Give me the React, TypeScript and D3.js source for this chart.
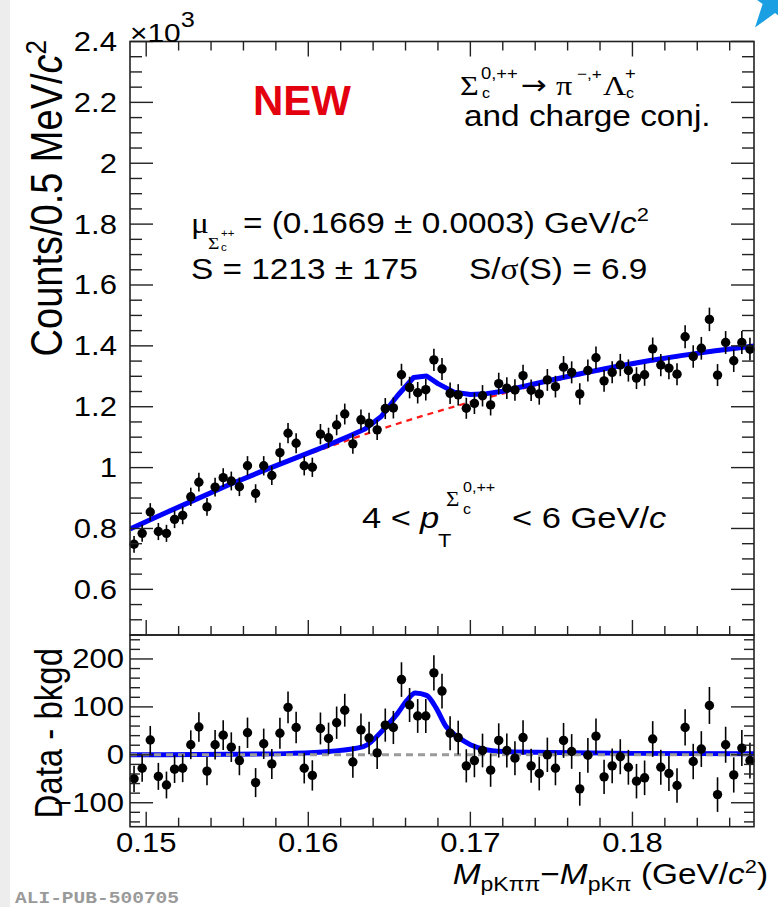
import React from "react";
import * as d3 from "d3";

// histogram bins (GeV/c^2), 0.5 MeV wide
const binCenters = [
  0.14925, 0.14975, 0.15025, 0.15075, 0.15125, 0.15175, 0.15225, 0.15275, 0.15325, 0.15375,
  0.15425, 0.15475, 0.15525, 0.15575, 0.15625, 0.15675, 0.15725, 0.15775, 0.15825, 0.15875,
  0.15925, 0.15975, 0.16025, 0.16075, 0.16125, 0.16175, 0.16225, 0.16275, 0.16325, 0.16375,
  0.16425, 0.16475, 0.16525, 0.16575, 0.16625, 0.16675, 0.16725, 0.16775, 0.16825, 0.16875,
  0.16925, 0.16975, 0.17025, 0.17075, 0.17125, 0.17175, 0.17225, 0.17275, 0.17325, 0.17375,
  0.17425, 0.17475, 0.17525, 0.17575, 0.17625, 0.17675, 0.17725, 0.17775, 0.17825, 0.17875,
  0.17925, 0.17975, 0.18025, 0.18075, 0.18125, 0.18175, 0.18225, 0.18275, 0.18325, 0.18375,
  0.18425, 0.18475, 0.18525, 0.18575, 0.18625, 0.18675, 0.18725,
];

// counts x10^3
const counts = [
  0.748, 0.784, 0.854, 0.79, 0.784, 0.83, 0.843, 0.904, 0.952, 0.871,
  0.936, 0.967, 0.956, 0.937, 1.006, 0.915, 1.006, 0.974, 1.049, 1.113,
  1.08, 1.006, 1.001, 1.11, 1.098, 1.14, 1.176, 1.078, 1.157, 1.146,
  1.124, 1.194, 1.196, 1.305, 1.263, 1.246, 1.256, 1.354, 1.324, 1.244,
  1.239, 1.195, 1.211, 1.236, 1.206, 1.276, 1.261, 1.255, 1.302, 1.254,
  1.242, 1.288, 1.266, 1.33, 1.313, 1.242, 1.319, 1.361, 1.285, 1.313,
  1.337, 1.319, 1.294, 1.305, 1.39, 1.337, 1.327, 1.307, 1.43, 1.365,
  1.392, 1.487, 1.304, 1.411, 1.351, 1.411, 1.389,
];

// data - background (counts)
const residuals = [
  -50, -28, 31, -45, -63, -30, -28, 21, 58, -34,
  21, 41, 16, -12, 46, -58, 23, -19, 45, 99,
  57, -28, -43, 55, 34, 67, 93, -15, 52, 35,
  4, 62, 57, 157, 104, 81, 81, 171, 133, 45,
  36, -23, -12, 9, -32, 30, 9, -7, 36, -23,
  -39, 0, -28, 30, 7, -71, -1, 39, -46, -23,
  -4, -26, -55, -48, 33, -26, -39, -64, 57, -14,
  12, 103, -83, 21, -42, 14, -12,
];

// total fit (blue)
const fitX = [0.149, 0.151, 0.153, 0.155, 0.157, 0.159, 0.161, 0.1625, 0.1635, 0.1645, 0.1655, 0.1665, 0.1673, 0.168, 0.169, 0.17, 0.171, 0.172, 0.173, 0.175, 0.177, 0.179, 0.181, 0.183, 0.185, 0.1875];
const fitTotal = [0.798, 0.847, 0.894, 0.941, 0.985, 1.027, 1.069, 1.103, 1.127, 1.168, 1.236, 1.296, 1.301, 1.276, 1.248, 1.24, 1.243, 1.251, 1.263, 1.288, 1.311, 1.332, 1.351, 1.368, 1.383, 1.4];

// background fit (red dashed)
const bkgX = [0.149, 0.152, 0.155, 0.158, 0.161, 0.164, 0.167, 0.17, 0.173, 0.176, 0.179, 0.182, 0.185, 0.1875];
const bkgVals = [0.798, 0.871, 0.94, 1.004, 1.063, 1.118, 1.169, 1.215, 1.257, 1.295, 1.328, 1.356, 1.38, 1.397];

// signal curve in lower panel
const sigX = [0.149, 0.155, 0.159, 0.1613, 0.1634, 0.1648, 0.1655, 0.1661, 0.1666, 0.1673, 0.1679, 0.1685, 0.1692, 0.17, 0.1708, 0.172, 0.175, 0.18, 0.1875];
const sigVals = [0, 1, 3, 7, 17, 59, 86, 114, 129, 124, 97, 59, 38, 21, 12, 7, 5, 3, 2];

const xTicks = [0.15, 0.16, 0.17, 0.18];
const xTickLabels = ["0.15", "0.16", "0.17", "0.18"];
const topTicks = [0.6, 0.8, 1, 1.2, 1.4, 1.6, 1.8, 2, 2.2, 2.4];
const topTickLabels = ["0.6", "0.8", "1", "1.2", "1.4", "1.6", "1.8", "2", "2.2", "2.4"];
const botTicks = [-100, 0, 100, 200];
const botTickLabels = ["\u2212100", "0", "100", "200"];

const SANS = "'Liberation Sans', Arial, Helvetica, sans-serif";
const SERIF = "'Liberation Serif', 'Times New Roman', serif";
const SX = 1.15;

const T = (p: any) => {
  const { x, y, size, anchor = "start", family = SANS, sx = SX, rot = 0, children, ...rest } = p;
  return (
    <text
      transform={`translate(${x},${y}) scale(${sx},1)${rot ? ` rotate(${rot})` : ""}`}
      fontSize={size}
      fontFamily={family}
      textAnchor={anchor}
      {...rest}
    >
      {children}
    </text>
  );
};

export default function App() {
  const L = 130, R = 754, TOP = 41.5, MID = 635, BOT = 826.7;
  const x = d3.scaleLinear().domain([0.149, 0.1875]).range([L, R]);
  const yT = d3.scaleLinear().domain([0.45, 2.4]).range([MID, TOP]);
  const yB = d3.scaleLinear().domain([-150, 250]).range([BOT, MID]);

  const xMinor = d3.range(0, 19).map((i) => 0.15 + i * 0.002);
  const topMinor = d3.range(0, 40).map((i) => 0.45 + i * 0.05).filter((v) => v <= 2.4001);
  const botMinor = d3.range(0, 20).map((i) => -140 + i * 20);

  const fitLine = d3.line<number>().x((d, i) => x(fitX[i])).y((d) => yT(d));
  const bkgLine = d3.line<number>().x((d, i) => x(bkgX[i])).y((d) => yT(d)).curve(d3.curveMonotoneX);
  const sigLine = d3.line<number>().x((d, i) => x(sigX[i])).y((d) => yB(d)).curve(d3.curveMonotoneX);

  const star = d3.range(10).map((k) => {
    const a = ((-90 + k * 36) * Math.PI) / 180;
    const r = k % 2 === 0 ? 34 : 13;
    return [775 + r * Math.cos(a), 0 + r * Math.sin(a)].join(",");
  }).join(" ");

  const ink = "#222";

  return (
    <svg width={778} height={907} style={{ position: "absolute", left: 0, top: 0, background: "#fff" }}>
      <rect x={0} y={0} width={10} height={907} fill="#ededed" />
      <polygon points={star} fill="#1a9fe3" />

      <defs>
        <clipPath id="clipTop"><rect x={L} y={TOP} width={R - L} height={MID - TOP} /></clipPath>
        <clipPath id="clipBot"><rect x={L} y={MID} width={R - L} height={BOT - MID} /></clipPath>
      </defs>

      {/* upper panel curves */}
      <g clipPath="url(#clipTop)">
        <path d={bkgLine(bkgVals) || ""} fill="none" stroke="#ff1a1a" strokeWidth={2.2} strokeDasharray="6,5" />
        <path d={fitLine(fitTotal) || ""} fill="none" stroke="#0000ff" strokeWidth={5} strokeLinejoin="round" />
      </g>
      {counts.map((c, i) => {
        const e = Math.sqrt(c * 1000) / 1000;
        return (
          <g key={"t" + i}>
            <line x1={x(binCenters[i])} x2={x(binCenters[i])} y1={yT(c - e)} y2={yT(c + e)} stroke="#000" strokeWidth={1.6} />
            <circle cx={x(binCenters[i])} cy={yT(c)} r={4.7} fill="#000" />
          </g>
        );
      })}

      {/* lower panel curves */}
      <g clipPath="url(#clipBot)">
        <path d={sigLine(sigVals) || ""} fill="none" stroke="#0000ff" strokeWidth={5} />
        <line x1={L} x2={R} y1={yB(0)} y2={yB(0)} stroke="#9a9a9a" strokeWidth={3} strokeDasharray="7,5" />
      </g>
      {residuals.map((r, i) => {
        const e = Math.sqrt(counts[i] * 1000);
        return (
          <g key={"b" + i}>
            <line x1={x(binCenters[i])} x2={x(binCenters[i])} y1={yB(r - e)} y2={yB(r + e)} stroke="#000" strokeWidth={1.6} />
            <circle cx={x(binCenters[i])} cy={yB(r)} r={4.7} fill="#000" />
          </g>
        );
      })}

      {/* frames */}
      <rect x={L} y={TOP} width={R - L} height={MID - TOP} fill="none" stroke={ink} strokeWidth={1.6} />
      <rect x={L} y={MID} width={R - L} height={BOT - MID} fill="none" stroke={ink} strokeWidth={1.6} />

      {/* ticks */}
      <g stroke={ink} strokeWidth={1.4}>
        {xMinor.map((v) => {
          const major = xTicks.some((t) => Math.abs(t - v) < 1e-6);
          const len = major ? 15 : 9;
          return (
            <g key={"xm" + v}>
              <line x1={x(v)} x2={x(v)} y1={TOP} y2={TOP + len} />
              <line x1={x(v)} x2={x(v)} y1={MID} y2={MID - len} />
              <line x1={x(v)} x2={x(v)} y1={BOT} y2={BOT - len} />
            </g>
          );
        })}
        {topMinor.map((v) => {
          const major = topTicks.some((t) => Math.abs(t - v) < 1e-6);
          const len = major ? 23 : 12;
          return (
            <g key={"ym" + v}>
              <line x1={L} x2={L + len} y1={yT(v)} y2={yT(v)} />
              <line x1={R} x2={R - len} y1={yT(v)} y2={yT(v)} />
            </g>
          );
        })}
        {botMinor.map((v) => {
          const major = botTicks.includes(v);
          const len = major ? 23 : 10;
          return (
            <g key={"bm" + v}>
              <line x1={L} x2={L + len} y1={yB(v)} y2={yB(v)} />
              <line x1={R} x2={R - len} y1={yB(v)} y2={yB(v)} />
            </g>
          );
        })}
      </g>

      {/* tick labels */}
      {topTicks.map((v, i) => (
        <T key={"tl" + i} x={117} y={yT(v) + 9.5} size={27} anchor="end">{topTickLabels[i]}</T>
      ))}
      {botTicks.map((v, i) => (
        <T key={"bl" + i} x={124} y={yB(v) + 9.5} size={27} anchor="end">{botTickLabels[i]}</T>
      ))}
      {xTicks.map((v, i) => (
        <T key={"xl" + i} x={x(v)} y={852} size={27} anchor="middle">{xTickLabels[i]}</T>
      ))}
      <T x={130} y={42} size={26}>
        ×10<tspan dy={-15} fontSize={22}>3</tspan>
      </T>

      {/* axis titles */}
      <T x={62} y={40} size={38} anchor="end" rot={-90}>
        Counts/0.5 MeV/<tspan fontStyle="italic">c</tspan><tspan dy={-14} fontSize={26}>2</tspan>
      </T>
      <T x={62} y={648} size={33} anchor="end" rot={-90}>Data - bkgd</T>
      <T x={768} y={884} size={29} anchor="end">
        <tspan fontStyle="italic">M</tspan>
        <tspan dy={7} fontSize={20}>pKππ</tspan>
        <tspan dy={-7}>−</tspan>
        <tspan fontStyle="italic">M</tspan>
        <tspan dy={7} fontSize={20}>pKπ</tspan>
        <tspan dy={-7}> (GeV/</tspan>
        <tspan fontStyle="italic">c</tspan>
        <tspan dy={-11} fontSize={19}>2</tspan>
        <tspan dy={11}>)</tspan>
      </T>

      {/* annotations */}
      <T x={253} y={115} size={42} sx={1} fontWeight="bold" fill="#e3000f">NEW</T>

      <T x={460} y={95} size={28} family={SERIF}>Σ</T>
      <T x={481} y={79} size={16}>0,++</T>
      <T x={482} y={98} size={14}>c</T>
      <T x={521} y={94} size={27} family="'DejaVu Sans', sans-serif">→</T>
      <T x={556} y={95} size={28} family={SERIF}>π</T>
      <T x={577} y={79} size={15}>−,+</T>
      <T x={603} y={95} size={28} family={SERIF}>Λ</T>
      <T x={625} y={79} size={16}>+</T>
      <T x={626} y={98} size={14}>c</T>
      <T x={464} y={126} size={29}>and charge conj.</T>

      <T x={191} y={233} size={29} family={SERIF}>μ</T>
      <T x={208} y={249} size={17} family={SERIF}>Σ</T>
      <T x={221} y={237} size={10}>++</T>
      <T x={221} y={251} size={10}>c</T>
      <T x={243} y={233} size={29}>
        = (0.1669 ± 0.0003) GeV/<tspan fontStyle="italic">c</tspan><tspan dy={-12} fontSize={19}>2</tspan>
      </T>
      <T x={191} y={279} size={29}>S = 1213 ± 175</T>
      <T x={469} y={279} size={29}>
        S/<tspan fontFamily={SERIF}>σ</tspan>(S) = 6.9
      </T>

      <T x={362} y={528} size={30}>4 &lt;</T>
      <T x={420} y={528} size={30} fontStyle="italic">p</T>
      <T x={438} y={547} size={19}>T</T>
      <T x={446} y={506} size={20} family={SERIF}>Σ</T>
      <T x={463} y={492} size={14}>0,++</T>
      <T x={463} y={514} size={14}>c</T>
      <T x={512} y={528} size={30}>
        &lt; 6 GeV/<tspan fontStyle="italic">c</tspan>
      </T>

      <T x={15} y={903} size={17} family="'Liberation Mono', 'Courier New', monospace" fontWeight="bold" fill="#9a9a9a">ALI-PUB-500705</T>
    </svg>
  );
}
